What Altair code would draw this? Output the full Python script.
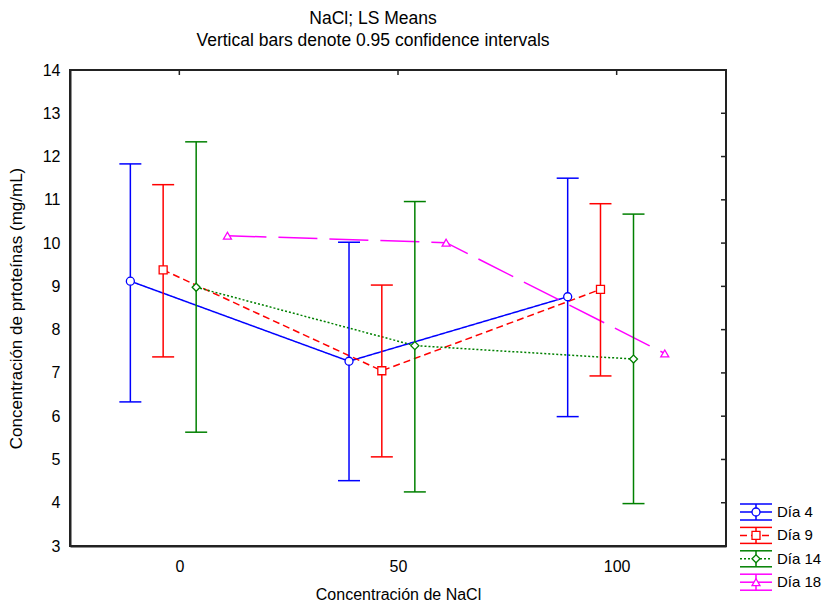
import altair as alt
import pandas as pd

# ---- data ----
series = ["Día 4", "Día 9", "Día 14", "Día 18"]
nacl = [0, 50, 100]
means = {
    "Día 4": [9.12, 7.27, 8.76],
    "Día 9": [9.38, 7.05, 8.93],
    "Día 14": [8.98, 7.63, 7.32],
    "Día 18": [10.17, 10.01, 7.45],
}
lower = {
    "Día 4": [6.33, 4.51, 5.99],
    "Día 9": [7.37, 5.06, 6.93],
    "Día 14": [5.63, 4.25, 3.98],
    "Día 18": [None, None, None],
}
upper = {
    "Día 4": [11.83, 10.02, 11.50],
    "Día 9": [11.35, 9.03, 10.91],
    "Día 14": [12.34, 10.96, 10.67],
    "Día 18": [None, None, None],
}
y_ticks = list(range(3, 15))

# ---- styles ----
colors = ["#0000ff", "#ff0000", "#008000", "#ff00ff"]
dashes = [[1, 0], [7, 4], [2, 2], [39, 12]]
shapes = ["circle", "square", "diamond", "triangle-up"]
dodge = [-11.2, -3.7, 3.85, 11.0]  # horizontal dodge (NaCl units)
FONT = "Liberation Sans"

rows = []
for i, s in enumerate(series):
    for j, n in enumerate(nacl):
        rows.append({
            "series": s, "nacl": n, "xpos": n + dodge[i],
            "mean": means[s][j], "lower": lower[s][j], "upper": upper[s][j],
        })
df = pd.DataFrame(rows)

W, H = 656, 476
PL, PT = 62, 62
SVG_W, SVG_H = 816, 595

xs = alt.Scale(domain=[-25, 125], nice=False, zero=False)
ys = alt.Scale(domain=[3, 14], nice=False, zero=False)
col = alt.Scale(domain=series, range=colors)
dash = alt.Scale(domain=series, range=dashes)
shp = alt.Scale(domain=series, range=shapes)

x_enc = alt.X("xpos:Q", scale=xs, axis=alt.Axis(
    values=nacl, title="Concentración de NaCl", grid=False, ticks=False,
    labelPadding=12, titlePadding=12.5, format="d"))
y_enc = alt.Y("mean:Q", scale=ys, axis=alt.Axis(
    values=y_ticks, title="Concentración de prtoteínas (mg/mL)", grid=False,
    ticks=False, labelPadding=10, titlePadding=17, titleFontSize=17))

base = alt.Chart(df)

lines = base.mark_line(strokeWidth=1.5).encode(
    x=x_enc, y=y_enc,
    color=alt.Color("series:N", scale=col, legend=None),
    strokeDash=alt.StrokeDash("series:N", scale=dash, legend=None),
    detail="series:N",
    order=alt.Order("xpos:Q"),
)

eb = base.transform_filter("datum.lower != null")
bars = eb.mark_rule(strokeWidth=1.5).encode(
    x="xpos:Q", y="lower:Q", y2="upper:Q",
    color=alt.Color("series:N", scale=col, legend=None),
)
cap_hi = eb.mark_rule(strokeWidth=1.5, xOffset=-11, x2Offset=11).encode(
    x="xpos:Q", x2="xpos:Q", y="upper:Q",
    color=alt.Color("series:N", scale=col, legend=None),
)
cap_lo = eb.mark_rule(strokeWidth=1.5, xOffset=-11, x2Offset=11).encode(
    x="xpos:Q", x2="xpos:Q", y="lower:Q",
    color=alt.Color("series:N", scale=col, legend=None),
)
pts = base.mark_point(filled=True, fill="white", fillOpacity=1, opacity=1,
                      size=64, strokeWidth=1.3).encode(
    x="xpos:Q", y="mean:Q",
    stroke=alt.Stroke("series:N", scale=col, legend=None),
    shape=alt.Shape("series:N", scale=shp, legend=None),
)

# inward ticks on top and right of the frame
top_ticks = alt.Chart(pd.DataFrame({"v": nacl})).mark_rule(
    color="#222", strokeWidth=1.5).encode(
    x="v:Q", y=alt.value(0), y2=alt.value(5))
right_ticks = alt.Chart(pd.DataFrame({"v": y_ticks})).mark_rule(
    color="#222", strokeWidth=1.5).encode(
    y="v:Q", x=alt.value(W - 5), x2=alt.value(W))

main = alt.layer(lines, bars, cap_hi, cap_lo, pts, top_ticks, right_ticks)

# ---- custom legend (error-bar style symbols) ----
leg_df = pd.DataFrame({"series": series})
ly = alt.Y("series:N", scale=alt.Scale(type="point", domain=series,
                                       range=[442, 512.2], padding=0), axis=None)
lc = alt.Color("series:N", scale=col, legend=None)
LX0, LX1, LXC, LTX = 670, 702, 686, 707
lb = alt.Chart(leg_df)
l_top = lb.mark_rule(strokeWidth=1.5, yOffset=-8).encode(
    x=alt.value(LX0), x2=alt.value(LX1), y=ly, color=lc)
l_bot = lb.mark_rule(strokeWidth=1.5, yOffset=8).encode(
    x=alt.value(LX0), x2=alt.value(LX1), y=ly, color=lc)
l_vert = lb.mark_rule(strokeWidth=1.5, yOffset=-8, y2Offset=8).encode(
    x=alt.value(LXC), y=ly, y2="series:N", color=lc)
l_mid = lb.mark_rule(strokeWidth=1.5).encode(
    x=alt.value(LX0), x2=alt.value(LX1), y=ly, color=lc,
    strokeDash=alt.StrokeDash("series:N", scale=dash, legend=None))
l_pt = lb.mark_point(filled=True, fill="white", fillOpacity=1, opacity=1,
                     size=64, strokeWidth=1.3).encode(
    x=alt.value(LXC), y=ly,
    stroke=alt.Stroke("series:N", scale=col, legend=None),
    shape=alt.Shape("series:N", scale=shp, legend=None))
l_txt = lb.mark_text(align="left", baseline="middle", fontSize=15,
                     font=FONT, color="black").encode(
    x=alt.value(LTX), y=ly, text="series:N")
legend = alt.layer(l_top, l_bot, l_vert, l_mid, l_pt, l_txt)

chart = alt.layer(main, legend).resolve_scale(y="independent").properties(
    width=W, height=H,
    autosize=alt.AutoSizeParams(type="none"),
    padding={"left": PL, "top": PT, "right": SVG_W - PL - W,
             "bottom": SVG_H - PT - H},
    title=alt.TitleParams(
        text="NaCl; LS Means",
        subtitle="Vertical bars denote 0.95 confidence intervals",
        fontSize=17.5, subtitleFontSize=17.5, font=FONT, subtitleFont=FONT,
        fontWeight="normal", color="black", subtitleColor="black",
        anchor="middle", frame="group", dx=-25,
        subtitlePadding=4.5, offset=12.5),
).configure_view(stroke="#222", strokeWidth=2).configure_axis(
    domainColor="#222", domainWidth=2, labelFont=FONT, titleFont=FONT,
    labelFontSize=16, titleFontSize=16, labelColor="black", titleColor="black",
    titleFontWeight="normal",
)

chart.save("out.html", embed_options={"renderer": "svg", "actions": False})
